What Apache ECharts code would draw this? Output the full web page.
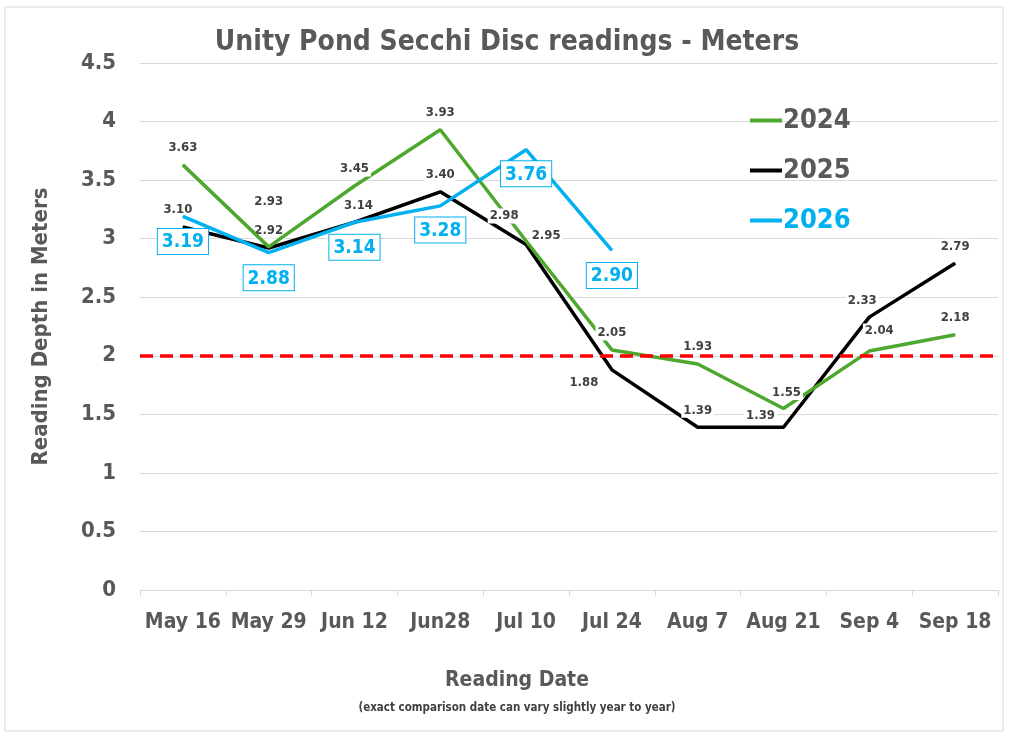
<!DOCTYPE html>
<html><head><meta charset="utf-8">
<script src="https://cdn.jsdelivr.net/npm/echarts@6/dist/echarts.min.js"></script>
<style>html,body{margin:0;padding:0;background:#fff}#c{width:1014px;height:740px}</style>
</head><body><div id="c"></div>
<script>
const categories = ['May 16','May 29','Jun 12','Jun28','Jul 10','Jul 24','Aug 7','Aug 21','Sep 4','Sep 18'];
const y2024 = [3.63, 2.93, 3.45, 3.93, 2.98, 2.05, 1.93, 1.55, 2.04, 2.18];
const y2025 = [3.10, 2.92, 3.14, 3.40, 2.95, 1.88, 1.39, 1.39, 2.33, 2.79];
const y2026 = [3.19, 2.88, 3.14, 3.28, 3.76, 2.90, null, null, null, null];
const threshold = 2;
const yTicks = [0, 0.5, 1, 1.5, 2, 2.5, 3, 3.5, 4, 4.5];

// label offsets (style only)
const off2024 = [[0,-2],[0,-30],[0,-2],[0,-2],[-22,-10],[0,-2],[0,-2],[3,-1],[10,-5],[0,-2]];
const off2025 = [[-5,-2],[0,-2],[4,-2],[0,-2],[20,6],[-28,28],[0,-2],[-23,3],[-7,-2],[0,-2]];
const off2026 = [[0,2],[0,2],[0,2],[0,1],[0,1],[0,2]];

const FONT = "'DejaVu Sans Condensed','DejaVu Sans',sans-serif";
const GRAY = '#595959';

function mk(vals, offs){ return vals.map((v,i)=> v==null? null : ({value:v, label:{offset:offs[i]||[0,0]}})); }

const smallLabel = {show:true, position:'top', distance:7, formatter:p=>p.value.toFixed(2),
  color:'#404040', fontWeight:'bold', fontSize:13, fontFamily:FONT, backgroundColor:'#fff', padding:[1,2]};

const chart = echarts.init(document.getElementById('c'), null, {renderer:'canvas'});
chart.setOption({
  animation:false,
  backgroundColor:'#fff',
  graphic:[{type:'rect', shape:{x:5, y:7, width:998, height:724}, style:{fill:'none', stroke:'#d9d9d9', lineWidth:1}, silent:true}],
  title:[
    {text:'Unity Pond Secchi Disc readings - Meters', left:502, top:24, textAlign:'center',
     textStyle:{fontFamily:FONT, fontSize:28, fontWeight:'bold', color:GRAY}},
    {text:'Reading Date', left:512, top:665, textAlign:'center',
     textStyle:{fontFamily:FONT, fontSize:21, fontWeight:'bold', color:GRAY}},
    {text:'(exact comparison date can vary slightly year to year)', left:512, top:697, textAlign:'center',
     textStyle:{fontFamily:FONT, fontSize:11.5, fontWeight:'bold', color:'#404040'}}
  ],
  legend:{orient:'vertical', left:745, top:102, itemGap:23, itemWidth:32, itemHeight:4, icon:'rect',
    textStyle:{fontFamily:FONT, fontSize:27, fontWeight:'bold', color:GRAY, padding:[0,0,0,-4]},
    data:[{name:'2024'},{name:'2025'},{name:'2026', textStyle:{color:'#00b0f0'}}]},
  grid:{left:140, right:16, top:63, bottom:150},
  xAxis:{type:'category', data:categories, boundaryGap:true,
    axisLine:{lineStyle:{color:'#d9d9d9', width:1}},
    axisTick:{show:true, length:6, interval:0, lineStyle:{color:'#d9d9d9'}},
    axisLabel:{margin:22, interval:0, fontFamily:FONT, fontSize:21, fontWeight:'bold', color:GRAY}},
  yAxis:{type:'value', min:0, max:4.5, interval:0.5,
    axisLine:{show:false}, axisTick:{show:false},
    splitLine:{lineStyle:{color:'#d9d9d9', width:1}},
    axisLabel:{margin:24, fontFamily:FONT, fontSize:22, fontWeight:'bold', color:GRAY,
      formatter:v=> yTicks.includes(v) ? String(v) : ''},
    name:'Reading Depth in Meters', nameLocation:'middle', nameGap:88, nameRotate:90,
    nameTextStyle:{fontFamily:FONT, fontSize:22, fontWeight:'bold', color:GRAY}},
  series:[
    {name:'2024', type:'line', data:mk(y2024, off2024), symbol:'circle', symbolSize:1, z:3,
     lineStyle:{color:'#4ea72e', width:3.5}, itemStyle:{color:'#4ea72e'},
     label:smallLabel,
     markLine:{silent:true, symbol:'none', label:{show:false},
       lineStyle:{color:'#ff0000', width:3.5, type:[13,7]}, data:[{yAxis:threshold}]}},
    {name:'2025', type:'line', data:mk(y2025, off2025), symbol:'circle', symbolSize:1, z:2,
     lineStyle:{color:'#000', width:3.5}, itemStyle:{color:'#000'},
     label:smallLabel},
    {name:'2026', type:'line', data:mk(y2026, off2026), symbol:'circle', symbolSize:1, z:4,
     lineStyle:{color:'#00b0f0', width:3.5}, itemStyle:{color:'#00b0f0'},
     label:{show:true, position:'bottom', distance:10, formatter:p=>p.value.toFixed(2),
       color:'#00b0f0', fontWeight:'bold', fontSize:19, fontFamily:FONT,
       backgroundColor:'#fff', borderColor:'#00b0f0', borderWidth:1, padding:[4,4,2,4]}}
  ]
});
</script></body></html>
